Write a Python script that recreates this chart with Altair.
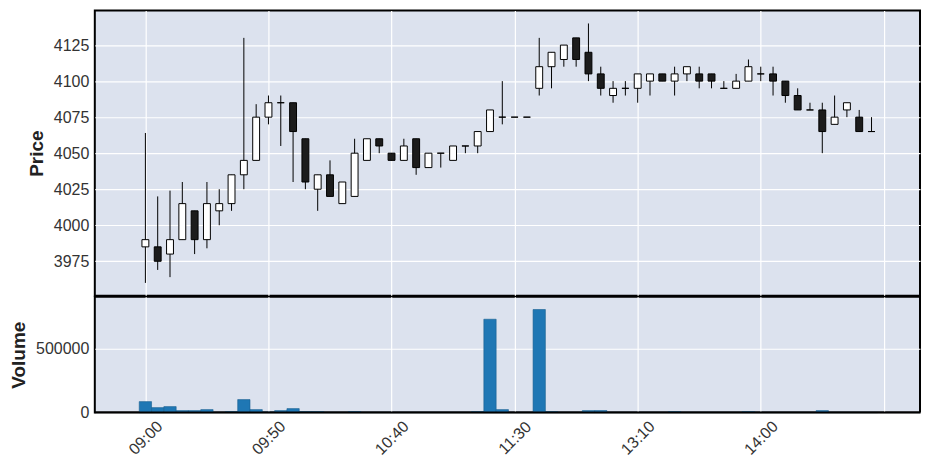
import altair as alt
import pandas as pd

# ---- data (5-minute bars, index positions) ----
opens = [3985, 3985, 3980, 3990, 4010, 3990, 4010, 4015, 4035, 4045,
         4075, 4085, 4085, 4060, 4025, 4035, 4015, 4020, 4045, 4060,
         4050, 4045, 4060, 4040, 4050, 4045, 4055, 4055, 4065, 4075,
         4075, 4075, 4095, 4110, 4115, 4130, 4120, 4105, 4090, 4095,
         4095, 4100, 4105, 4100, 4105, 4105, 4105, 4095, 4095, 4100,
         4105, 4105, 4100, 4090, 4080, 4080, 4070, 4080, 4075, 4065]
highs = [4064, 4020, 4024, 4030, 4010, 4030, 4025, 4035, 4130, 4084,
         4090, 4090, 4085, 4060, 4035, 4045, 4030, 4060, 4060, 4060,
         4050, 4060, 4060, 4050, 4050, 4055, 4055, 4065, 4080, 4100,
         4075, 4075, 4130, 4120, 4125, 4130, 4140, 4110, 4100, 4100,
         4105, 4105, 4105, 4110, 4110, 4110, 4105, 4100, 4105, 4115,
         4110, 4110, 4100, 4095, 4085, 4085, 4090, 4085, 4080, 4075]
lows = [3960, 3969, 3964, 3990, 3980, 3984, 4000, 4010, 4025, 4045,
        4070, 4055, 4030, 4025, 4010, 4020, 4015, 4020, 4045, 4050,
        4045, 4045, 4035, 4040, 4040, 4045, 4050, 4050, 4065, 4070,
        4075, 4075, 4090, 4095, 4110, 4110, 4100, 4090, 4085, 4090,
        4085, 4090, 4100, 4090, 4100, 4095, 4095, 4095, 4095, 4100,
        4100, 4090, 4085, 4080, 4080, 4050, 4070, 4075, 4065, 4065]
closes = [3990, 3975, 3990, 4015, 3990, 4015, 4015, 4035, 4045, 4075,
          4085, 4085, 4065, 4030, 4035, 4020, 4030, 4050, 4060, 4055,
          4045, 4055, 4040, 4050, 4050, 4055, 4055, 4065, 4080, 4075,
          4075, 4075, 4110, 4120, 4125, 4115, 4105, 4095, 4095, 4095,
          4105, 4105, 4100, 4105, 4110, 4100, 4100, 4095, 4100, 4110,
          4105, 4100, 4090, 4080, 4080, 4065, 4075, 4085, 4065, 4065]
volumes = [86000, 39000, 47000, 15700, 15700, 23500, 2000, 7800, 102000, 23500,
           5000, 15700, 31400, 7800, 7800, 2000, 2000, 7800, 2000, 2000,
           2000, 2000, 2000, 2000, 2000, 2000, 2000, 7800, 730000, 23500,
           2000, 2000, 806000, 7800, 2000, 2000, 15700, 15700, 2000, 2000,
           2000, 2000, 2000, 7800, 2000, 2000, 2000, 2000, 2000, 7800,
           2000, 2000, 2000, 2000, 2000, 15700, 2000, 2000, 2000, 2000]
tick_positions = [0, 10, 20, 30, 40, 50, 60]
tick_labels = ["09:00", "09:50", "10:40", "11:30", "13:10", "14:00", ""]
price_ticks = [3975, 4000, 4025, 4050, 4075, 4100, 4125]
volume_ticks = [0, 500000]

df = pd.DataFrame({
    "idx": list(range(len(opens))),
    "open": opens, "high": highs, "low": lows, "close": closes,
    "volume": volumes,
})

x_scale = alt.Scale(domain=[-4.11, 62.94], nice=False, zero=False)
p_scale = alt.Scale(domain=[3951, 4149], nice=False, zero=False)
v_scale = alt.Scale(domain=[0, 905000], nice=False, zero=False)

label_expr = "[" + ",".join("'%s'" % s for s in tick_labels) + "][round(datum.value/10)]"

base = alt.Chart(df)

wick = base.mark_rule(color="black", strokeWidth=1).encode(
    x=alt.X("idx:Q", scale=x_scale,
            axis=alt.Axis(values=tick_positions, labels=False, ticks=False,
                          tickSize=0, domain=False, title=None, grid=True)),
    y=alt.Y("low:Q", scale=p_scale,
            axis=alt.Axis(values=price_ticks, format="d", title="Price")),
    y2="high:Q",
)

body = base.transform_calculate(
    x0="datum.idx - 0.28", x1="datum.idx + 0.28"
).mark_bar(stroke="black", strokeWidth=1).encode(
    x=alt.X("x0:Q", scale=x_scale, title=None),
    x2="x1:Q",
    y=alt.Y("open:Q", scale=p_scale, title="Price"),
    y2="close:Q",
    fill=alt.condition("datum.close >= datum.open", alt.value("white"), alt.value("#1c1c1c")),
)

price = alt.layer(wick, body).properties(width=827, height=286)

vol_bars = base.transform_calculate(
    x0="datum.idx - 0.5", x1="datum.idx + 0.5"
).mark_bar(color="#1f77b4", stroke="#1a5f91", strokeWidth=0.6).encode(
    x=alt.X("x0:Q", scale=x_scale,
            axis=alt.Axis(values=tick_positions, labelExpr=label_expr,
                          labelAngle=315, labelAlign="center", labelBaseline="middle",
                          labelPadding=25, ticks=False, tickSize=0, domain=False,
                          title=None, grid=True)),
    x2="x1:Q",
    y=alt.Y("volume:Q", scale=v_scale,
            axis=alt.Axis(values=volume_ticks, format="d", title="Volume")),
    y2=alt.datum(0),
)

baseline = alt.Chart(pd.DataFrame({"base": [0]})).mark_rule(
    color="black", strokeWidth=2
).encode(y=alt.Y("base:Q", scale=v_scale, title="Volume"))

vol = alt.layer(vol_bars, baseline).properties(width=827, height=116)

chart = alt.vconcat(price, vol, spacing=-2).configure_view(
    stroke="black", strokeWidth=2, fill="#DCE2EE"
).configure_axis(
    gridColor="white", gridWidth=1.2, gridOpacity=1,
    labelFont="Liberation Sans", labelFontSize=16, labelColor="#333333",
    titleFont="Liberation Sans", titleFontSize=19, titleFontWeight="bold",
    titleColor="#222222", domain=False, ticks=False, tickSize=0,
    labelPadding=6, titlePadding=7,
).properties(padding={"left": 0, "top": 1, "right": 2, "bottom": 2})

chart.save("out.html", embed_options={"renderer": "svg", "actions": False})
